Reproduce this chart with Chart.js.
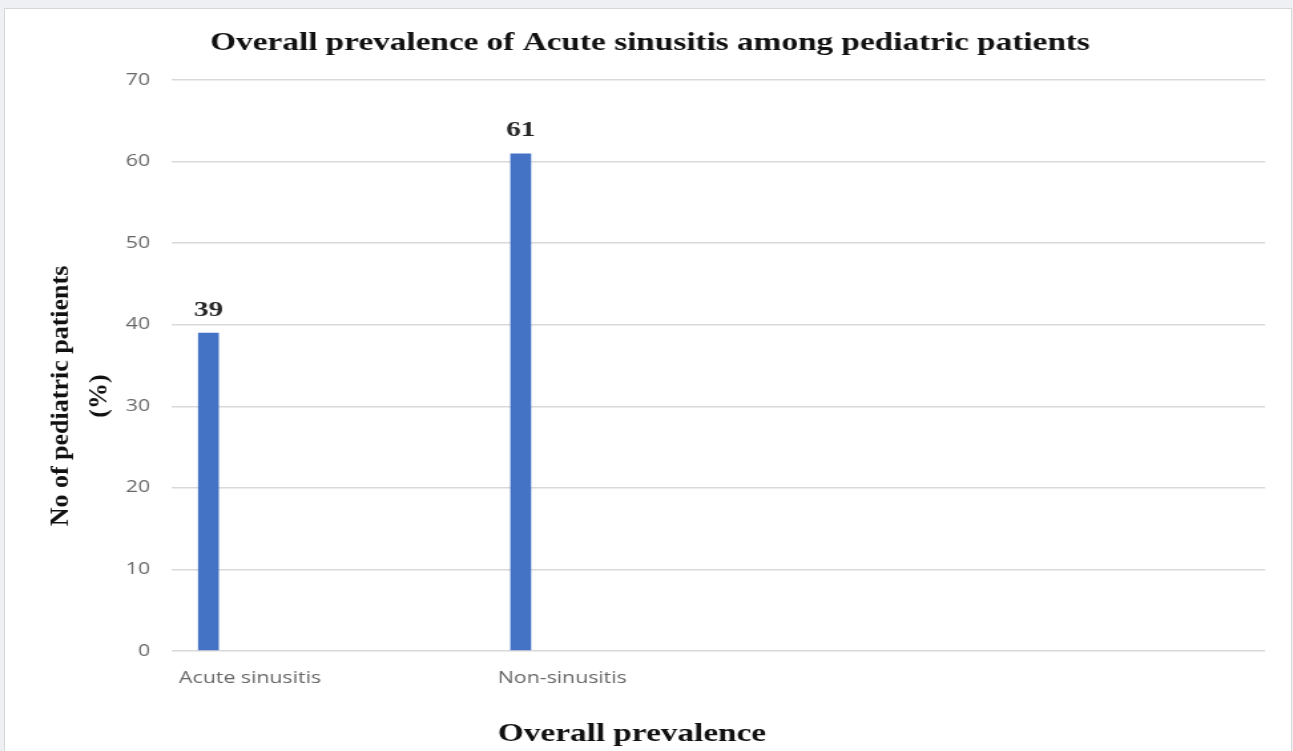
<!DOCTYPE html>
<html>
<head>
<meta charset="utf-8">
<script src="https://cdn.jsdelivr.net/npm/chart.js@4.4.1/dist/chart.umd.min.js"></script>
<style>
  html, body { margin: 0; padding: 0; background: #eef0f3; overflow: hidden; }
  #frame { position: absolute; left: 4px; top: 8px; width: 1286px; height: 760px; background: #fff; border: 1px solid #d6d6d6; }
  /* the source figure is stretched sideways, so the canvas is too */
  #chart { position: absolute; left: 0; top: 0; transform: scaleX(1.3302); transform-origin: 0 0; }
</style>
</head>
<body>
<div id="frame"></div>
<canvas id="chart" width="972" height="751"></canvas>
<script>
// chart data
const categories = ["Acute sinusitis", "", "Non-sinusitis", "", "", "", ""];
const prevalence = [39, null, 61, null, null, null, null];
const series2 = [];
const series3 = [];
const yMin = 0, yMax = 70, yStep = 10;

const chartTitle = "Overall prevalence of Acute sinusitis among pediatric patients";
const xTitle = "Overall prevalence";
const yTitle = ["No of pediatric patients", "(%)"];

const stretch = 1.3302;
const serif = '"Liberation Serif", "Times New Roman", serif';

// value labels above the bars
const valueLabels = {
  id: "valueLabels",
  afterDatasetsDraw(chart) {
    const ctx = chart.ctx;
    const meta = chart.getDatasetMeta(0);
    ctx.save();
    ctx.font = "bold 22px " + serif;
    ctx.fillStyle = "#262626";
    ctx.textAlign = "center";
    ctx.textBaseline = "middle";
    meta.data.forEach((bar, i) => {
      const v = prevalence[i];
      if (v === null) return;
      ctx.fillText(String(v), bar.x, bar.y - 23);
    });
    ctx.restore();
  }
};

// axis titles, placed like the original figure
const axisTitles = {
  id: "axisTitles",
  afterDraw(chart) {
    const ctx = chart.ctx;
    ctx.save();
    ctx.fillStyle = "#111";
    ctx.font = "bold 25px " + serif;
    ctx.textAlign = "center";
    ctx.textBaseline = "middle";
    ctx.fillText(xTitle, 632 / stretch, 735);
    // y title is not stretched in the source
    ctx.font = "bold 26px " + serif;
    ctx.translate(61 / stretch, 396);
    ctx.scale(1 / stretch, 1);
    ctx.rotate(-Math.PI / 2);
    ctx.fillText(yTitle[0], 0, 0);
    ctx.fillText(yTitle[1], 0, 39);
    ctx.restore();
  }
};

new Chart(document.getElementById("chart"), {
  type: "bar",
  data: {
    labels: categories,
    datasets: [
      { label: "Series1", data: prevalence, backgroundColor: "#4472c4" },
      { label: "Series2", data: series2, backgroundColor: "#ed7d31" },
      { label: "Series3", data: series3, backgroundColor: "#a5a5a5" }
    ]
  },
  options: {
    responsive: false,
    animation: false,
    categoryPercentage: 0.8,
    barPercentage: 0.5,
    layout: { padding: { left: 26.4, right: 21, top: 0, bottom: 0 } },
    plugins: {
      legend: { display: false },
      tooltip: { enabled: false },
      title: {
        display: true,
        text: chartTitle,
        color: "#111",
        font: { family: serif, size: 25, weight: "bold", lineHeight: 1.2 },
        padding: { top: 29, bottom: 21 }
      }
    },
    scales: {
      x: {
        grid: { display: false, drawTicks: false },
        border: { display: false },
        ticks: {
          color: "#666",
          font: { family: '"Open Sans", sans-serif', size: 16 },
          padding: 18,
          maxRotation: 0,
          autoSkip: false
        },
        afterFit(scale) { scale.height = 100; }
      },
      y: {
        min: yMin,
        max: yMax,
        grid: { color: "#d9d9d9", lineWidth: 1.5, drawTicks: false },
        border: { display: false },
        ticks: {
          stepSize: yStep,
          color: "#666",
          font: { family: '"Open Sans", sans-serif', size: 16 },
          padding: 16.5
        },
        afterFit(scale) { scale.width = 102.9; }
      }
    }
  },
  plugins: [valueLabels, axisTitles]
});
</script>
</body>
</html>
